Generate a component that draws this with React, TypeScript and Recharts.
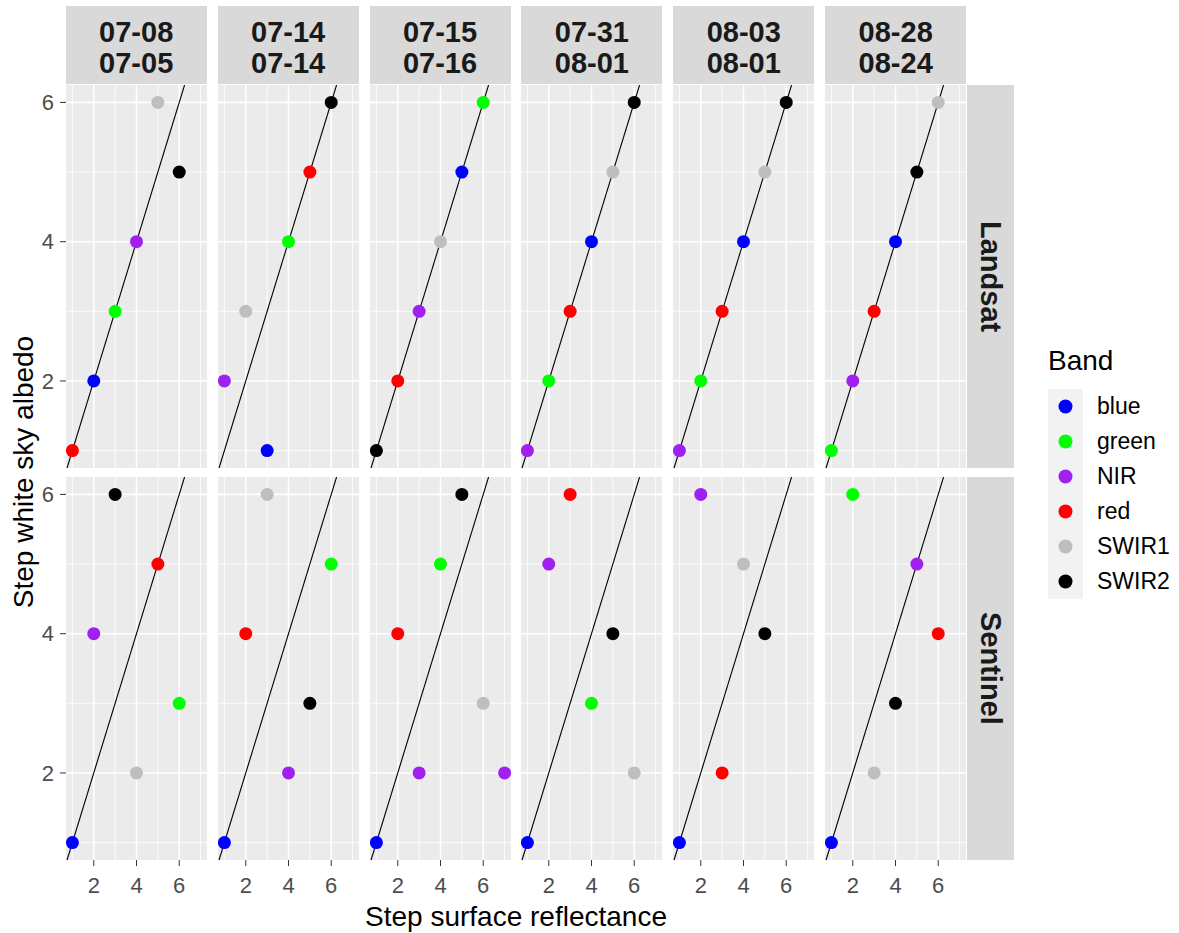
import { ScatterChart, Scatter, XAxis, YAxis, CartesianGrid, ReferenceLine } from "recharts";

type StepPoint = [string, number, number];

const dateLabels = [
    ["07-08", "07-05"],
    ["07-14", "07-14"],
    ["07-15", "07-16"],
    ["07-31", "08-01"],
    ["08-03", "08-01"],
    ["08-28", "08-24"],
];
const sensors = ["Landsat", "Sentinel"];
const bands = ["blue", "green", "NIR", "red", "SWIR1", "SWIR2"];
const bandColors = ["#0000FF", "#00FF00", "#A020F0", "#FF0000", "#BEBEBE", "#000000"];
const stepTicks = [2, 4, 6];
const minorX = [1, 3, 5, 7];
const minorY = [1, 3, 5];
const oneToOne = [0.75, 6.25];

// [band, step surface reflectance, step white sky albedo], one list per date pair
const landsatSteps: StepPoint[][] = [
    [["red", 1, 1], ["blue", 2, 2], ["green", 3, 3], ["NIR", 4, 4], ["SWIR1", 5, 6], ["SWIR2", 6, 5]],
    [["NIR", 1, 2], ["SWIR1", 2, 3], ["blue", 3, 1], ["green", 4, 4], ["red", 5, 5], ["SWIR2", 6, 6]],
    [["SWIR2", 1, 1], ["red", 2, 2], ["NIR", 3, 3], ["SWIR1", 4, 4], ["blue", 5, 5], ["green", 6, 6]],
    [["NIR", 1, 1], ["green", 2, 2], ["red", 3, 3], ["blue", 4, 4], ["SWIR1", 5, 5], ["SWIR2", 6, 6]],
    [["NIR", 1, 1], ["green", 2, 2], ["red", 3, 3], ["blue", 4, 4], ["SWIR1", 5, 5], ["SWIR2", 6, 6]],
    [["green", 1, 1], ["NIR", 2, 2], ["red", 3, 3], ["blue", 4, 4], ["SWIR2", 5, 5], ["SWIR1", 6, 6]],
];

const sentinelSteps: StepPoint[][] = [
    [["blue", 1, 1], ["NIR", 2, 4], ["SWIR2", 3, 6], ["SWIR1", 4, 2], ["red", 5, 5], ["green", 6, 3]],
    [["blue", 1, 1], ["red", 2, 4], ["SWIR1", 3, 6], ["NIR", 4, 2], ["SWIR2", 5, 3], ["green", 6, 5]],
    [["blue", 1, 1], ["red", 2, 4], ["NIR", 3, 2], ["green", 4, 5], ["SWIR2", 5, 6], ["SWIR1", 6, 3], ["NIR", 7, 2]],
    [["blue", 1, 1], ["NIR", 2, 5], ["red", 3, 6], ["green", 4, 3], ["SWIR2", 5, 4], ["SWIR1", 6, 2]],
    [["blue", 1, 1], ["NIR", 2, 6], ["red", 3, 2], ["SWIR1", 4, 5], ["SWIR2", 5, 4]],
    [["blue", 1, 1], ["green", 2, 6], ["SWIR1", 3, 2], ["SWIR2", 4, 3], ["NIR", 5, 5], ["red", 6, 4]],
];

const FONT = "'Liberation Sans', Arial, sans-serif";
const PANEL_W = 141;
const PANEL_H = 383;
const COL_STEP = 151.9;
const LEFT0 = 65.7;
const ROW_TOP = [85, 477];
const Y_AXIS_W = 66;
const X_AXIS_H = 50;

const colLeft = (c: number) => LEFT0 + c * COL_STEP;

function Panel({ points, row, col }: { points: StepPoint[]; row: number; col: number }) {
    const showY = col === 0;
    const showX = row === 1;
    const width = PANEL_W + (showY ? Y_AXIS_W : 0);
    const height = PANEL_H + (showX ? X_AXIS_H : 0);
    const tickStyle = { fill: "#4D4D4D", fontSize: 22, fontFamily: FONT };

    return (
        <div style={{ position: "absolute", left: colLeft(col) - (showY ? Y_AXIS_W : 0), top: ROW_TOP[row] }}>
            <ScatterChart width={width} height={height} margin={{ top: 0, right: 0, bottom: 0, left: 0 }}>
                <CartesianGrid fill="#EBEBEB" stroke="#FFFFFF" strokeWidth={0.8} horizontalValues={minorY} verticalValues={minorX} />
                <CartesianGrid stroke="#FFFFFF" strokeWidth={1.6} horizontalValues={stepTicks} verticalValues={stepTicks} />
                <XAxis
                    type="number"
                    dataKey="x"
                    domain={[0.7, 7.3]}
                    ticks={stepTicks}
                    hide={!showX}
                    height={X_AXIS_H}
                    axisLine={false}
                    tickLine={{ stroke: "#333333" }}
                    tickSize={6}
                    tickMargin={11}
                    tick={tickStyle}
                />
                <YAxis
                    type="number"
                    dataKey="y"
                    domain={[0.75, 6.25]}
                    ticks={stepTicks}
                    hide={!showY}
                    width={Y_AXIS_W}
                    axisLine={false}
                    tickLine={{ stroke: "#333333" }}
                    tickSize={6}
                    tickMargin={6}
                    tick={tickStyle}
                />
                {bands.map((band, i) => (
                    <Scatter
                        key={band}
                        data={points.filter((p) => p[0] === band).map((p) => ({ x: p[1], y: p[2] }))}
                        fill={bandColors[i]}
                        isAnimationActive={false}
                        shape={(props: any) => <circle cx={props.cx} cy={props.cy} r={6.5} fill={bandColors[i]} />}
                    />
                ))}
                <ReferenceLine
                    segment={[{ x: oneToOne[0], y: oneToOne[0] }, { x: oneToOne[1], y: oneToOne[1] }]}
                    stroke="#000000"
                    strokeWidth={1.1}
                    ifOverflow="visible"
                />
            </ScatterChart>
        </div>
    );
}

export default function App() {
    const stepsByRow = [landsatSteps, sentinelSteps];

    return (
        <div style={{ position: "absolute", left: 0, top: 0, width: 1179, height: 933, background: "#FFFFFF", fontFamily: FONT }}>
            {/* date strips */}
            {dateLabels.map((pair, c) => (
                <div
                    key={pair.join("-") + c}
                    style={{
                        position: "absolute",
                        left: colLeft(c),
                        top: 6,
                        width: PANEL_W,
                        height: 78,
                        paddingTop: 6,
                        boxSizing: "border-box",
                        background: "#D9D9D9",
                        display: "flex",
                        flexDirection: "column",
                        alignItems: "center",
                        justifyContent: "center",
                        fontSize: 29,
                        lineHeight: "31px",
                        fontWeight: 700,
                        color: "#1A1A1A",
                    }}
                >
                    <span>{pair[0]}</span>
                    <span>{pair[1]}</span>
                </div>
            ))}

            {/* sensor strips */}
            {sensors.map((s, r) => (
                <div
                    key={s}
                    style={{
                        position: "absolute",
                        left: 967,
                        top: ROW_TOP[r],
                        width: 47,
                        height: PANEL_H,
                        background: "#D9D9D9",
                        display: "flex",
                        alignItems: "center",
                        justifyContent: "center",
                    }}
                >
                    <span style={{ writingMode: "vertical-rl", fontSize: 29, fontWeight: 700, color: "#1A1A1A" }}>{s}</span>
                </div>
            ))}

            {stepsByRow.map((rowSteps, r) =>
                rowSteps.map((points, c) => <Panel key={`${r}-${c}`} points={points} row={r} col={c} />)
            )}

            {/* axis titles */}
            <div style={{ position: "absolute", left: 0, top: 903, width: 1032, textAlign: "center", fontSize: 28, lineHeight: "28px", color: "#000" }}>
                Step surface reflectance
            </div>
            <div
                style={{
                    position: "absolute",
                    left: 24 - 200,
                    top: 472 - 14,
                    width: 400,
                    height: 28,
                    textAlign: "center",
                    fontSize: 28,
                    lineHeight: "28px",
                    color: "#000",
                    transform: "rotate(-90deg)",
                }}
            >
                Step white sky albedo
            </div>

            {/* legend */}
            <div style={{ position: "absolute", left: 1048, top: 347, fontSize: 28, lineHeight: "28px", color: "#000" }}>Band</div>
            <div style={{ position: "absolute", left: 1048, top: 389, width: 35, height: bands.length * 35, background: "#F2F2F2" }} />
            {bands.map((band, i) => (
                <div key={band} style={{ position: "absolute", left: 1048, top: 389 + i * 35, height: 35, display: "flex", alignItems: "center" }}>
                    <svg width={35} height={35}>
                        <circle cx={17.5} cy={17.5} r={7} fill={bandColors[i]} />
                    </svg>
                    <span style={{ marginLeft: 14, fontSize: 23, color: "#000" }}>{band}</span>
                </div>
            ))}
        </div>
    );
}
